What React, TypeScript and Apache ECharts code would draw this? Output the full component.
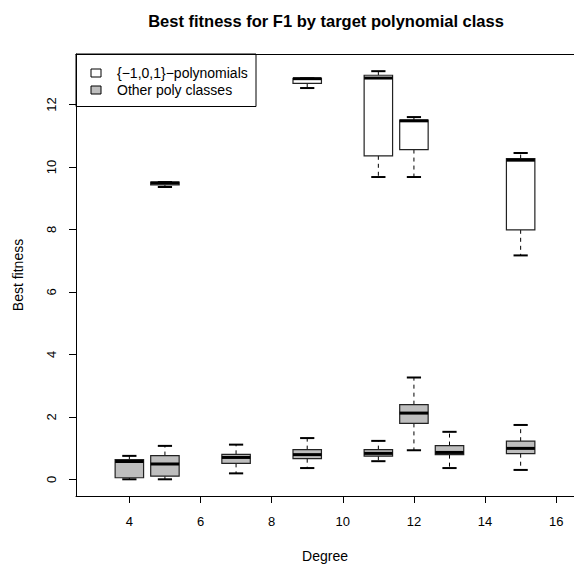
import React, { useEffect, useRef } from "react";
import * as echarts from "echarts";

// {-1,0,1}-polynomials (white boxes)
const degreesA = [5, 9, 11, 12, 15];
const lowA = [9.36, 12.53, 9.68, 9.68, 7.17];
const q1A = [9.43, 12.68, 10.36, 10.56, 7.99];
const medA = [9.49, 12.83, 12.85, 11.48, 10.22];
const q3A = [9.52, 12.84, 12.94, 11.5, 10.27];
const highA = [9.52, 12.84, 13.07, 11.6, 10.45];

// Other poly classes (gray boxes)
const degreesB = [4, 5, 7, 9, 11, 12, 13, 15];
const lowB = [0.0, 0.0, 0.19, 0.36, 0.58, 0.93, 0.36, 0.3];
const q1B = [0.05, 0.1, 0.51, 0.66, 0.74, 1.79, 0.79, 0.82];
const medB = [0.57, 0.49, 0.7, 0.79, 0.83, 2.12, 0.86, 0.99];
const q3B = [0.63, 0.76, 0.8, 0.95, 0.95, 2.39, 1.08, 1.22];
const highB = [0.75, 1.07, 1.11, 1.32, 1.23, 3.26, 1.52, 1.74];

const xTicks = [4, 6, 8, 10, 12, 14, 16];
const yTicks = [0, 2, 4, 6, 8, 10, 12];

const seriesNames = ["{\u22121,0,1}\u2212polynomials", "Other poly classes"];
const titleText = "Best fitness for F1 by target polynomial class";
const xTitle = "Degree";
const yTitle = "Best fitness";

const FONT = "'Liberation Sans', Arial, Helvetica, sans-serif";
const GRAY = "#bebebe";

function rows(d: number[], lo: number[], q1: number[], md: number[], q3: number[], hi: number[]) {
  return d.map((x, i) => [x, lo[i], q1[i], md[i], q3[i], hi[i]]);
}

function makeRender(fill: string) {
  return (params: any, api: any) => {
    const x = api.value(0);
    const lo = api.coord([x, api.value(1)]);
    const q1 = api.coord([x, api.value(2)]);
    const md = api.coord([x, api.value(3)]);
    const q3 = api.coord([x, api.value(4)]);
    const hi = api.coord([x, api.value(5)]);
    const w = api.size([0.8, 0])[0];
    const hw = w / 2;
    const cw = w / 4;
    const cx = md[0];
    return {
      type: "group",
      children: [
        {
          type: "line",
          shape: { x1: cx, y1: q3[1], x2: cx, y2: hi[1] },
          style: { stroke: "#000", lineWidth: 1, lineDash: [4, 4] },
        },
        {
          type: "line",
          shape: { x1: cx, y1: q1[1], x2: cx, y2: lo[1] },
          style: { stroke: "#000", lineWidth: 1, lineDash: [4, 4] },
        },
        {
          type: "line",
          shape: { x1: cx - cw, y1: hi[1], x2: cx + cw, y2: hi[1] },
          style: { stroke: "#000", lineWidth: 2 },
        },
        {
          type: "line",
          shape: { x1: cx - cw, y1: lo[1], x2: cx + cw, y2: lo[1] },
          style: { stroke: "#000", lineWidth: 2 },
        },
        {
          type: "rect",
          shape: { x: cx - hw, y: q3[1], width: w, height: q1[1] - q3[1] },
          style: { fill, stroke: "#222", lineWidth: 1.2 },
        },
        {
          type: "line",
          shape: { x1: cx - hw, y1: md[1], x2: cx + hw, y2: md[1] },
          style: { stroke: "#000", lineWidth: 3 },
        },
      ],
    };
  };
}

export default function App() {
  const ref = useRef<HTMLDivElement>(null);
  useEffect(() => {
    if (!ref.current) return;
    const chart = echarts.init(ref.current, null, { renderer: "svg" });
    const axisCommon = {
      type: "value" as const,
      splitLine: { show: false },
      axisLine: { show: true, onZero: false, lineStyle: { color: "#000", width: 1 } },
    };
    chart.setOption({
      animation: false,
      backgroundColor: "#fff",
      grid: { left: 76, top: 54, width: 498, height: 442 },
      xAxis: [
        {
          ...axisCommon,
          min: 2.5,
          max: 16.5,
          position: "bottom",
          axisTick: { show: true, length: 7, customValues: xTicks, lineStyle: { color: "#000" } },
          axisLabel: { customValues: xTicks, margin: 19, fontSize: 13, color: "#000", fontFamily: FONT },
        },
        {
          ...axisCommon,
          min: 2.5,
          max: 16.5,
          position: "top",
          axisTick: { show: false },
          axisLabel: { show: false },
        },
      ],
      yAxis: {
        ...axisCommon,
        min: -0.535,
        max: 13.62,
        axisTick: { show: true, length: 7, customValues: yTicks, lineStyle: { color: "#000" } },
        axisLabel: { customValues: yTicks, rotate: 90, margin: 18, fontSize: 13, color: "#000", fontFamily: FONT },
      },
      series: [
        {
          type: "custom",
          name: seriesNames[0],
          xAxisIndex: 0,
          renderItem: makeRender("#ffffff"),
          encode: { x: 0, y: [1, 2, 3, 4, 5] },
          data: rows(degreesA, lowA, q1A, medA, q3A, highA),
        },
        {
          type: "custom",
          name: seriesNames[1],
          xAxisIndex: 0,
          renderItem: makeRender(GRAY),
          encode: { x: 0, y: [1, 2, 3, 4, 5] },
          data: rows(degreesB, lowB, q1B, medB, q3B, highB),
        },
      ],
      graphic: [
        {
          type: "text",
          x: 326,
          y: 21,
          style: { text: titleText, font: `bold 16.5px ${FONT}`, fill: "#000", align: "center", verticalAlign: "middle" },
        },
        {
          type: "text",
          x: 325,
          y: 556,
          style: { text: xTitle, font: `14px ${FONT}`, fill: "#000", align: "center", verticalAlign: "middle" },
        },
        {
          type: "text",
          x: 18,
          y: 275,
          rotation: Math.PI / 2,
          style: { text: yTitle, font: `14px ${FONT}`, fill: "#000", align: "center", verticalAlign: "middle" },
        },
        {
          type: "group",
          z: 100,
          children: [
            {
              type: "rect",
              shape: { x: 76, y: 54, width: 180, height: 52.5 },
              style: { fill: "#fff", stroke: "#000", lineWidth: 1 },
            },
            {
              type: "rect",
              shape: { x: 91, y: 69, width: 10, height: 8 },
              style: { fill: "#fff", stroke: "#000", lineWidth: 1 },
            },
            {
              type: "rect",
              shape: { x: 91, y: 86, width: 10, height: 8 },
              style: { fill: GRAY, stroke: "#000", lineWidth: 1 },
            },
            {
              type: "text",
              x: 117,
              y: 73,
              style: { text: seriesNames[0], font: `14px ${FONT}`, fill: "#000", align: "left", verticalAlign: "middle" },
            },
            {
              type: "text",
              x: 117,
              y: 90,
              style: { text: seriesNames[1], font: `14px ${FONT}`, fill: "#000", align: "left", verticalAlign: "middle" },
            },
          ],
        },
      ],
    });
    return () => chart.dispose();
  }, []);
  return (
    <div
      ref={ref}
      style={{ position: "fixed", left: 0, top: 0, width: 574, height: 564, background: "#fff" }}
    />
  );
}
